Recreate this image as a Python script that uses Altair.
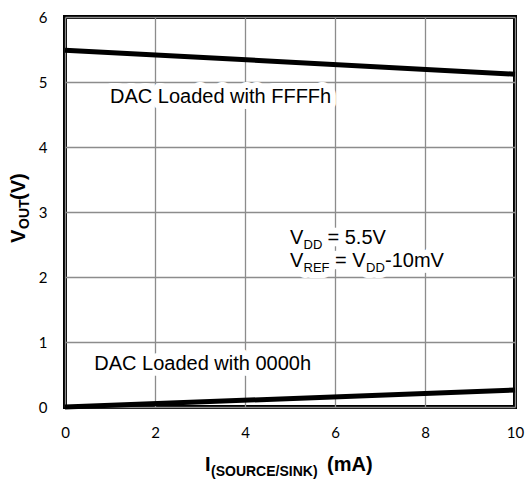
import altair as alt
import pandas as pd

# ---- data ----
current_ma = [0, 10]
vout_ffff = [5.49, 5.12]
vout_0000 = [0.0, 0.26]
x_ticks = [0, 2, 4, 6, 8, 10]
y_ticks = [0, 1, 2, 3, 4, 5, 6]

df = pd.DataFrame({
    "I": current_ma * 2,
    "V": vout_ffff + vout_0000,
    "code": ["FFFFh"] * 2 + ["0000h"] * 2,
})

W, H = 450, 390
FONT = "Liberation Sans"

xs = alt.Scale(domain=[0, 10], nice=False, zero=False)
ys = alt.Scale(domain=[0, 6], nice=False, zero=False)

lines = alt.Chart(df).mark_line(color="black", strokeWidth=5, clip=False).encode(
    x=alt.X("I:Q", scale=xs,
            axis=alt.Axis(values=x_ticks, title=None, format="d")),
    y=alt.Y("V:Q", scale=ys,
            axis=alt.Axis(values=y_ticks, title=None, format="d")),
    detail="code:N",
)

one = alt.Data(values=[{"k": 0}])

halos, texts = [], []


def data_text(s, x, y, size=20, dx=0, dy=0):
    enc = dict(x=alt.datum(x), y=alt.datum(y), text=alt.value(s))
    halos.append(alt.Chart(one).mark_text(
        align="left", baseline="alphabetic", font=FONT, fontSize=size,
        dx=dx, dy=dy, stroke="white", strokeWidth=12, fill="white",
        strokeJoin="round").encode(**enc))
    texts.append(alt.Chart(one).mark_text(
        align="left", baseline="alphabetic", font=FONT, fontSize=size,
        dx=dx, dy=dy, color="black").encode(**enc))


def px_text(s, x, y, size=20, dx=0, dy=0, angle=0):
    kw = dict(align="left", baseline="alphabetic", font=FONT, fontSize=size,
              dx=dx, dy=dy, color="black", fontWeight="bold")
    if angle:
        kw["angle"] = angle
    texts.append(alt.Chart(one).mark_text(**kw).encode(
        x=alt.value(x), y=alt.value(y), text=alt.value(s)))


# in-plot annotations
data_text("DAC Loaded with FFFFh", 1.0, 4.68)
data_text("DAC Loaded with 0000h", 0.65, 0.57)

# V_DD = 5.5V
vx, vy1, vy2 = 5.0, 2.51, 2.15
data_text("V", vx, vy1)
data_text("DD", vx, vy1, size=13, dx=13.5, dy=5)
data_text("= 5.5V", vx, vy1, dx=37.5)
# V_REF = V_DD-10mV
data_text("V", vx, vy2)
data_text("REF", vx, vy2, size=13, dx=13.5, dy=5)
data_text("= V", vx, vy2, dx=45)
data_text("DD", vx, vy2, size=13, dx=76, dy=5)
data_text("-10mV", vx, vy2, dx=95)

# x-axis title: I_(SOURCE/SINK) (mA)
tx, ty = 140, 454
px_text("I", tx, ty, size=20)
px_text("(SOURCE/SINK)", tx + 6, ty, size=14, dy=5)
px_text("(mA)", tx + 122, ty, size=20)

# y-axis title: V_OUT(V), rotated
yx, yy = -40, 226
px_text("V", yx, yy, size=20, angle=270)
px_text("OUT", yx, yy, size=14, dx=14, dy=4, angle=270)
px_text("(V)", yx, yy, size=20, dx=43, angle=270)

chart = alt.layer(*halos, *texts, lines).properties(
    width=W, height=H,
    autosize=alt.AutoSizeParams(type="none"),
    padding={"left": 65, "top": 17, "right": 12, "bottom": 72},
    background="white",
).configure_view(
    stroke="black", strokeWidth=4,
).configure_axis(
    domain=False, ticks=False, grid=True,
    gridColor="#8c8c8c", gridWidth=1.3,
    labelFont="Lato", labelFontSize=15, labelColor="black",
    labelPadding=18,
).configure_axisX(labelFlush=False).configure_axisY(labelFlush=False)

chart.save("out.html", embed_options={"renderer": "svg", "actions": False})
